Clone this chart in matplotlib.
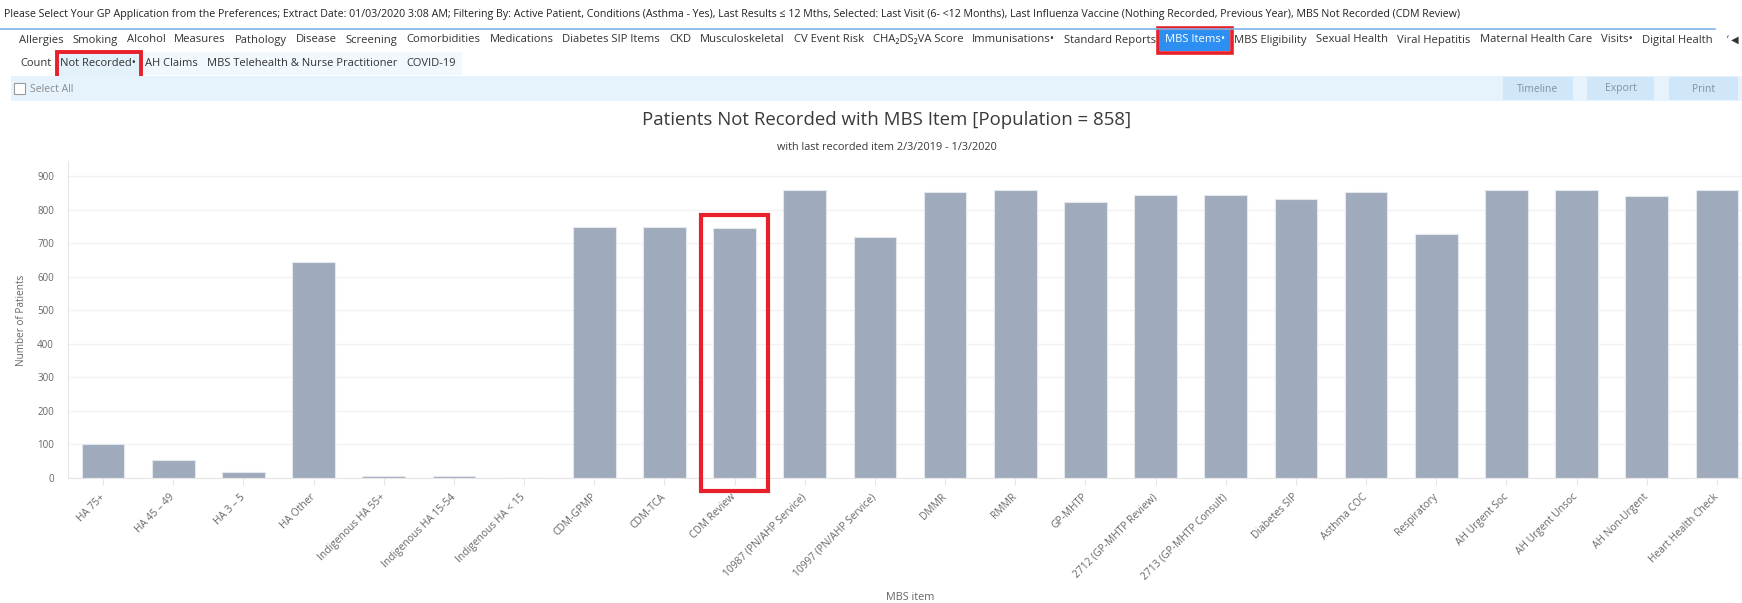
import matplotlib
matplotlib.use("Agg")
import matplotlib.pyplot as plt
import matplotlib.patches as mpatches

plt.rcParams['font.family'] = ['Open Sans', 'DejaVu Sans']

W, H = 1742, 603

categories = ['HA 75+', 'HA 45 – 49', 'HA 3 – 5', 'HA Other', 'Indigenous HA 55+',
              'Indigenous HA 15-54', 'Indigenous HA < 15', 'CDM-GPMP', 'CDM-TCA',
              'CDM Review', '10987 (PN/AHP Service)', '10997 (PN/AHP Service)', 'DMMR',
              'RMMR', 'GP-MHTP', '2712 (GP-MHTP Review)', '2713 (GP-MHTP Consult)',
              'Diabetes SIP', 'Asthma COC', 'Respiratory', 'AH Urgent Soc',
              'AH Urgent Unsoc', 'AH Non-Urgent', 'Heart Health Check']
values = [99, 51, 16, 645, 3, 3, 0, 748, 748, 746, 858, 720, 853, 858, 823, 843,
          843, 832, 853, 727, 858, 858, 840, 858]
yticks = [0, 100, 200, 300, 400, 500, 600, 700, 800, 900]

title = 'Patients Not Recorded with MBS Item [Population = 858]'
subtitle = 'with last recorded item 2/3/2019 - 1/3/2020'
header = ('Please Select Your GP Application from the Preferences; Extract Date: 01/03/2020 3:08 AM; '
          'Filtering By: Active Patient, Conditions (Asthma - Yes), Last Results \u2264 12 Mths, '
          'Selected: Last Visit (6- <12 Months), Last Influenza Vaccine (Nothing Recorded, Previous Year), '
          'MBS Not Recorded (CDM Review)')
tabs1 = ['Allergies', 'Smoking', 'Alcohol', 'Measures', 'Pathology', 'Disease', 'Screening',
         'Comorbidities', 'Medications', 'Diabetes SIP Items', 'CKD', 'Musculoskeletal',
         'CV Event Risk', 'CHA\u2082DS\u2082VA Score', 'Immunisations\u2022', 'Standard Reports',
         'MBS Items\u2022', 'MBS Eligibility', 'Sexual Health', 'Viral Hepatitis',
         'Maternal Health Care', 'Visits\u2022', 'Digital Health']
tabs2 = ['Count', 'Not Recorded\u2022', 'AH Claims', 'MBS Telehealth & Nurse Practitioner', 'COVID-19']
buttons = ['Timeline', 'Export', 'Print']
buttons_x = [(1503, 1573), (1587, 1654), (1669, 1738)]

fig = plt.figure(figsize=(W / 100, H / 100), dpi=100)
renderer = fig.canvas.get_renderer()

# chart area
x0, x1, ytop, ybot = 68, 1752, 161, 477.5
ax = fig.add_axes([x0 / W, (H - ybot) / H, (x1 - x0) / W, (ybot - ytop) / H])
ax.bar(range(len(values)), values, width=0.61, color='#9faabd', edgecolor='#e4e8ee', linewidth=0.8)
ax.set_xlim(-0.5, len(values) - 0.5)
ax.set_ylim(0, 946)
ax.set_yticks(yticks)
ax.set_yticklabels([str(v) for v in yticks], fontsize=7, color='#666666')
ax.set_xticks(range(len(categories)))
ax.set_xticklabels(categories, rotation=45, ha='right', va='center', rotation_mode='anchor',
                   fontsize=7.4, color='#666666')
ax.tick_params(axis='y', length=0, pad=10)
ax.tick_params(axis='x', length=5, color='#e6e6e6', pad=8)
ax.grid(axis='y', color='#f2f2f2', linewidth=1)
ax.set_axisbelow(True)
for s in ['top', 'right']:
    ax.spines[s].set_visible(False)
ax.spines['left'].set_color('#e6e6e6')
ax.spines['bottom'].set_color('#e6e6e6')

# overlay for the application chrome, in pixel coordinates
ov = fig.add_axes([0, 0, 1, 1], zorder=5)
ov.set_xlim(0, W)
ov.set_ylim(H, 0)
ov.axis('off')


def put(x, y, s, width=None, size=8, **kw):
    t = ov.text(x, y, s, fontsize=size, **kw)
    if width:
        w = t.get_window_extent(renderer).width
        t.set_fontsize(size * width / w)
    return t


def rect(xa, ya, xb, yb, **kw):
    ov.add_patch(mpatches.Rectangle((xa, ya), xb - xa, yb - ya, **kw))


def tab_row(labels, start, end, y, gap=9, size=8):
    # lay tabs left to right, shrink the font so the row spans start..end
    ts = [ov.text(0, y, s, fontsize=size, va='center', color='#333333') for s in labels]
    widths = [t.get_window_extent(renderer).width for t in ts]
    k = (end - start - gap * (len(labels) - 1)) / sum(widths)
    pos = {}
    x = start
    for s, t, w in zip(labels, ts, widths):
        t.set_fontsize(size * k)
        t.set_x(x)
        pos[s] = (x, x + w * k, t)
        x += w * k + gap
    return pos


put(4, 15, header, width=1465, va='center', color='#222222')
ov.plot([0, 1715], [29, 29], color='#7fb4e8', lw=1.2)

# tabs row 1
row1 = tab_row(tabs1, 19, 1713, 40)
xa, xb, t = row1['MBS Items\u2022']
t.set_color('white')
rect(xa - 5, 30, xb + 5, 51, facecolor='#2e8ff2', edgecolor='none', zorder=0)
rect(xa - 7, 28, xb + 7, 53, facecolor='none', edgecolor='#e8202a', lw=2.6)
put(1727, 40, '\u2018 \u25c0', size=7, va='center', color='#333333')

# tabs row 2
row2 = tab_row(tabs2, 20, 456, 64)
xa, xb, t = row2['Not Recorded\u2022']
rect(xa - 2, 52, 462, 75, facecolor='#f1f8fe', edgecolor='none', zorder=0)
rect(xa - 3, 52, xb + 5, 79, facecolor='#e3f1fb', edgecolor='#e8202a', lw=2.8, zorder=0.5)

# toolbar
rect(11, 76, W, 101, facecolor='#e6f3fd', edgecolor='none')
rect(14, 83, 25, 94, facecolor='white', edgecolor='#9a9a9a', lw=0.8)
put(30, 89, 'Select All', size=7.5, va='center', color='#8a8a8a')
for s, (xa, xb) in zip(buttons, buttons_x):
    rect(xa, 77, xb, 100, facecolor='#cfe7f8', edgecolor='none')
    put((xa + xb) / 2, 89, s, size=7.5, ha='center', va='center', color='#7d93a6')

# chart titles
put(887, 120, title, width=492, ha='center', va='center', color='#3a3a3a')
put(887, 147, subtitle, width=220, ha='center', va='center', color='#3a3a3a')
put(22, 320, 'Number of Patients', size=7.2, rotation=90, ha='center', va='center', color='#666666')
put(910, 597, 'MBS item', size=7.8, ha='center', va='center', color='#666666')

# highlight box around CDM Review
rect(701, 215, 768, 491, facecolor='none', edgecolor='#e8202a', lw=3)

fig.savefig('out.png', dpi=100)
